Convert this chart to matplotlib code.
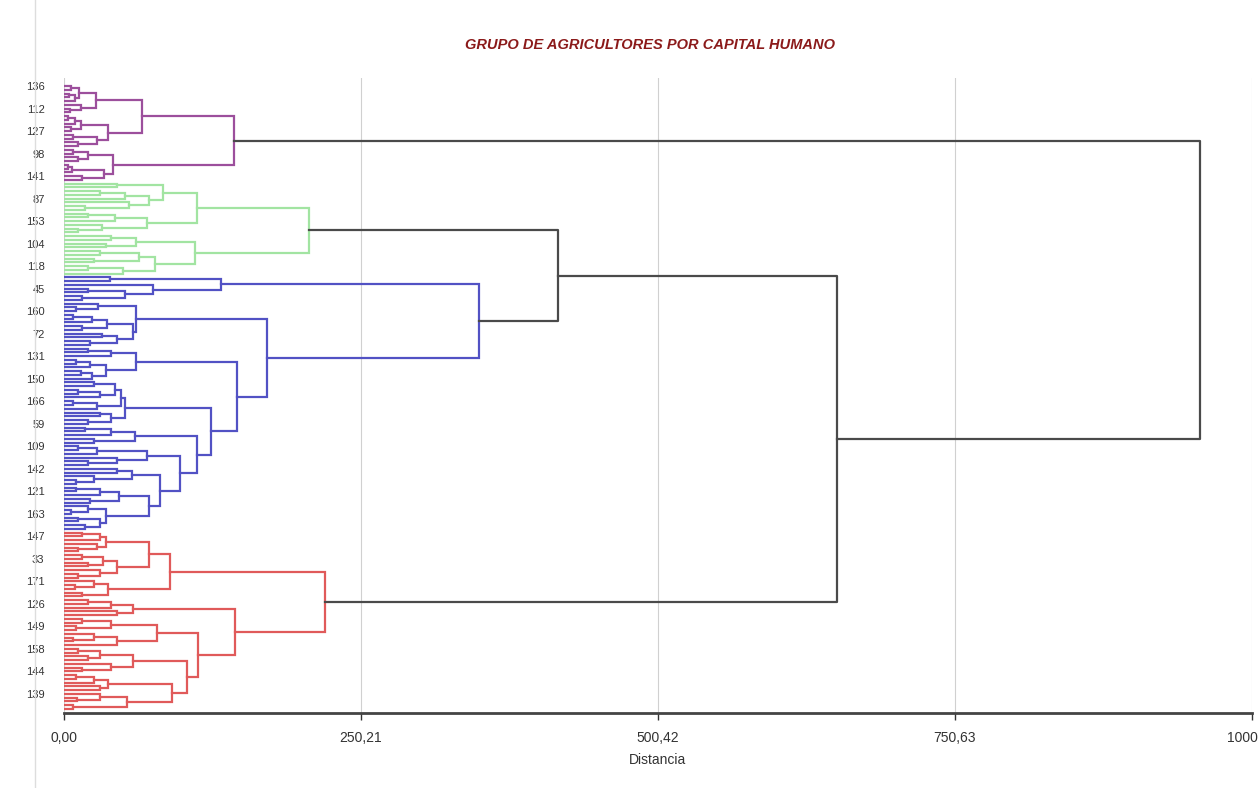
import matplotlib
matplotlib.use("Agg")
import matplotlib.pyplot as plt
from matplotlib.lines import Line2D

# Dendrogram trees: node = (merge distance, upper child, lower child), leaf = 0
purple_tree = (143,
               (66,
                (27, (13, (6, 0, 0), (9, (4, 0, 0), 0)), (14, 0, (5, 0, 0))),
                (37, (14, (9, (3, 0, 0), 0), (6, 0, 0)), (28, (8, 0, 0), (12, 0, 0)))),
               (41, (20, (8, 0, 0), (12, 0, 0)), (34, (7, (3, 0, 0), 0), (15, 0, 0))))

green_tree = (206,
              (112,
               (83, (45, 0, 0),
                (72, (51, (30, 0, 0), 0), (55, 0, (18, 0, 0)))),
               (70, (43, (20, 0, 0), 0), (32, 0, (12, 0, 0)))),
              (110,
               (61, (40, 0, 0), (35, 0, 0)),
               (77, (63, (30, 0, 0), (25, 0, 0)), (50, (20, 0, 0), 0))))

blue_tree = (350,
             (132, (39, 0, 0), (75, 0, (51, (20, 0, 0), (15, 0, 0)))),
             (171,
              (61, (29, 0, (10, 0, 0)),
               (58, (36, (24, (8, 0, 0), 0), (15, 0, 0)), (45, (32, 0, 0), (22, 0, 0)))),
              (146,
               (61, (40, (20, 0, 0), 0), (35, (22, (10, 0, 0), 0), (24, (14, 0, 0), 0))),
               (124,
                (51, (48, (43, (25, 0, 0), (30, (12, 0, 0), 0)), (28, (8, 0, 0), 0)),
                 (40, (30, 0, 0), (20, 0, 0))),
                (112,
                 (60, (40, (18, 0, 0), 0), (25, 0, 0)),
                 (98,
                  (70, (28, (12, 0, 0), 0), (45, 0, (20, 0, 0))),
                  (81,
                   (57, (45, 0, 0), (25, 0, (10, 0, 0))),
                   (72, (46, (30, (10, 0, 0), 0), (22, 0, 0)),
                    (35, (20, 0, (6, 0, 0)), (30, (12, 0, 0), (18, 0, 0)))))))))))

red_tree = (220,
            (89,
             (72, (35, (30, (15, 0, 0), 0), (28, 0, (12, 0, 0))),
              (45, (33, (15, 0, 0), (20, 0, 0)), (30, 0, (12, 0, 0)))),
             (37, (25, 0, (9, 0, 0)), (15, 0, 0))),
            (144,
             (58, (40, (20, 0, 0), 0), (45, 0, 0)),
             (113,
              (78, (40, (15, 0, 0), (10, 0, 0)), (45, (25, 0, (8, 0, 0)), 0)),
              (104,
               (58, (30, (12, 0, 0), (20, 0, 0)), (40, 0, (15, 0, 0))),
               (91, (37, (25, (10, 0, 0), 0), (30, 0, 0)),
                (53, (30, 0, (11, 0, 0)), (8, 0, 0)))))))

# distances of the joins between the four groups
green_blue_dist = 416
gbr_dist = 651
top_dist = 957

x_ticks = [0, 250.21, 500.42, 750.63, 1000.84]
x_tick_labels = ["0,00", "250,21", "500,42", "750,63", "1000,84"]
y_labels = ["136", "112", "127", "98", "141", "87", "153", "104", "118", "45",
            "160", "72", "131", "150", "166", "59", "109", "142", "121", "163",
            "147", "33", "171", "126", "149", "158", "144", "139", "62"]

cluster_colors = ["#9C4F9C", "#A2E4A2", "#5252C4", "#E05A5A"]
link_color = "#4A4A4A"

plt.rcParams['font.family'] = ['Liberation Sans', 'DejaVu Sans']

fig = plt.figure(figsize=(12.58, 7.88), dpi=100)
ax = fig.add_axes([64 / 1258, 1 - 713 / 788, 1188 / 1258, 635 / 788])

counter = [0]


def draw(node, color):
    if node == 0:
        y = counter[0]
        counter[0] += 1
        return y, 0.0
    h, upper, lower = node
    y1, h1 = draw(upper, color)
    y2, h2 = draw(lower, color)
    ax.plot([h1, h, h, h2], [y1, y1, y2, y2], color=color, lw=1.6,
            solid_joinstyle='miter', zorder=3)
    return (y1 + y2) / 2, h


def join(a, b, h):
    (y1, h1), (y2, h2) = a, b
    ax.plot([h1, h, h, h2], [y1, y1, y2, y2], color=link_color, lw=1.6, zorder=3)
    return (y1 + y2) / 2, h


p = draw(purple_tree, cluster_colors[0])
g = draw(green_tree, cluster_colors[1])
b = draw(blue_tree, cluster_colors[2])
r = draw(red_tree, cluster_colors[3])
gb = join(g, b, green_blue_dist)
gbr = join(gb, r, gbr_dist)
join(p, gbr, top_dist)

n = counter[0]
step = 623 / (n - 1)
ax.set_ylim(n - 1 + 4 / step, -8 / step)
ax.set_xlim(0, 1000.84)

ax.set_xticks(x_ticks)
ax.set_xticklabels(x_tick_labels, fontsize=10, color="#333333")
ytick_pos = list(range(0, n, 6))[:len(y_labels)]
ax.set_yticks(ytick_pos)
ax.set_yticklabels(y_labels[:len(ytick_pos)], fontsize=8, color="#333333")
ax.tick_params(axis='y', length=0, pad=14)
ax.tick_params(axis='x', length=5, width=1, color="#333333", pad=8)

ax.grid(axis='x', color="#D0D0D0", lw=0.8, zorder=0)
for side in ['top', 'right', 'left']:
    ax.spines[side].set_visible(False)
ax.spines['bottom'].set_color("#444444")
ax.spines['bottom'].set_linewidth(2)

ax.set_xlabel("Distancia", fontsize=10, color="#333333", labelpad=6)
fig.text(0.517, 1 - 45 / 788, "GRUPO DE AGRICULTORES POR CAPITAL HUMANO",
         ha='center', va='center', fontsize=10.5, fontweight='bold',
         fontstyle='italic', color="#8B1A1A")

fig.add_artist(Line2D([35 / 1258, 35 / 1258], [0, 1], color="#DDDDDD", lw=1))

fig.savefig("out.png", dpi=100)
